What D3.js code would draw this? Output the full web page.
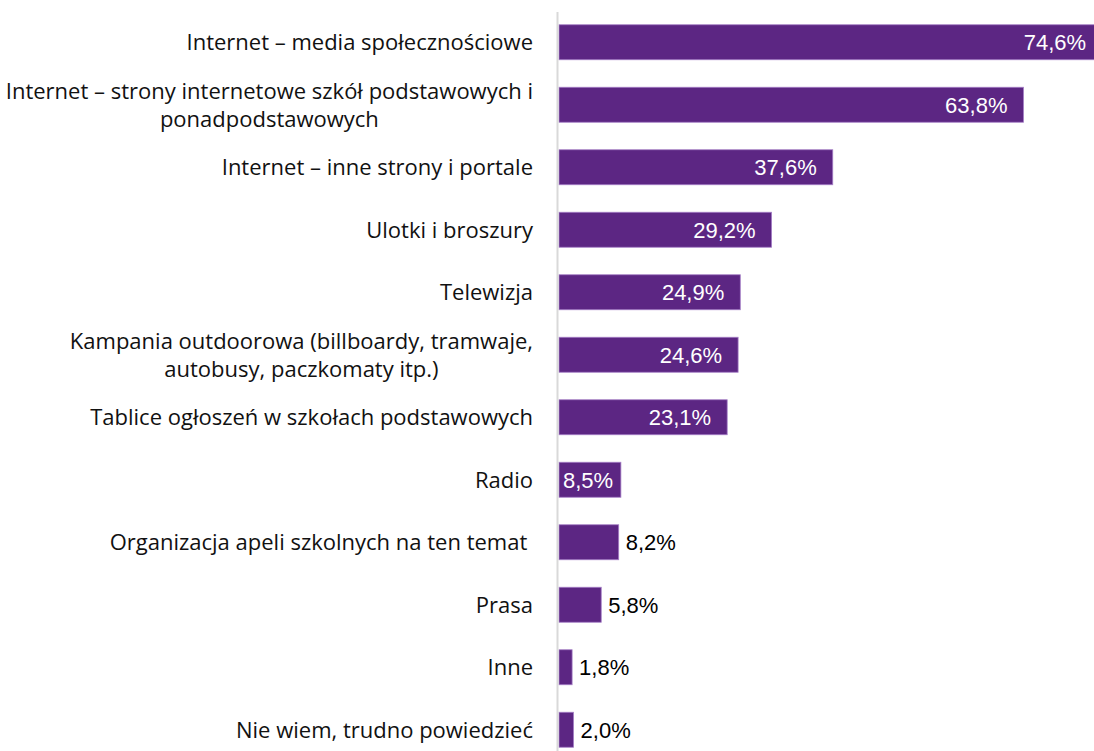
<!DOCTYPE html>
<html>
<head>
<meta charset="utf-8">
<script src="https://cdn.jsdelivr.net/npm/d3@7"></script>
<style>
  html, body { margin: 0; padding: 0; background: #fff; }
  svg { display: block; }
</style>
</head>
<body>
<svg id="chart" width="1094" height="751"></svg>
<script>
const categories = [
  ["Internet – media społecznościowe"],
  ["Internet – strony internetowe szkół podstawowych i", "ponadpodstawowych"],
  ["Internet – inne strony i portale"],
  ["Ulotki i broszury"],
  ["Telewizja"],
  ["Kampania outdoorowa (billboardy, tramwaje,", "autobusy, paczkomaty itp.)"],
  ["Tablice ogłoszeń w szkołach podstawowych"],
  ["Radio"],
  ["Organizacja apeli szkolnych na ten temat "],
  ["Prasa"],
  ["Inne"],
  ["Nie wiem, trudno powiedzieć"]
];
const values = [74.6, 63.8, 37.6, 29.2, 24.9, 24.6, 23.1, 8.5, 8.2, 5.8, 1.8, 2.0];
const valueLabels = ["74,6%", "63,8%", "37,6%", "29,2%", "24,9%", "24,6%", "23,1%", "8,5%", "8,2%", "5,8%", "1,8%", "2,0%"];
const labelPlacement = ["in", "in", "in", "in", "in", "in", "in", "in", "out", "out", "out", "out"];

const svg = d3.select("#chart");
const x0 = 559;
const x = d3.scaleLinear().domain([0, 63.8]).range([x0, 1023.5]);
const idx = d3.range(values.length);
const y = d3.scaleBand().domain(idx).range([11, 761]).paddingInner(0.44).paddingOuter(0.22);

const barColor = "#5c2683";
const catFont = "'Open Sans', sans-serif";
const valFont = "'Liberation Sans', Arial, sans-serif";

// bars
svg.append("g").selectAll("rect").data(idx).join("rect")
  .attr("x", x(0))
  .attr("y", i => y(i))
  .attr("width", i => x(values[i]) - x(0))
  .attr("height", y.bandwidth())
  .attr("fill", barColor)
  .attr("stroke", "#a57fc6")
  .attr("stroke-width", 0.8);

// axis line
svg.append("line")
  .attr("x1", 557.5).attr("x2", 557.5)
  .attr("y1", 12).attr("y2", 751)
  .attr("stroke", "#d9d9d9").attr("stroke-width", 2);

// category labels
const labelRight = 533;
const lineGap = 28;
const catG = svg.append("g");
idx.forEach(i => {
  const lines = categories[i];
  const cy = y(i) + y.bandwidth() / 2;
  const t = catG.append("text")
    .attr("font-family", catFont)
    .attr("font-size", 22)
    .attr("fill", "#111")
    .style("white-space", "pre");
  if (lines.length === 1) {
    t.attr("x", labelRight).attr("y", cy).attr("dy", "0.36em")
      .attr("text-anchor", "end").text(lines[0]);
  } else {
    const spans = lines.map((s, k) => t.append("tspan")
      .attr("y", cy + (k - (lines.length - 1) / 2) * lineGap)
      .attr("dy", "0.36em").text(s));
    const widths = spans.map(s => s.node().getComputedTextLength());
    const w = d3.max(widths);
    const cx = labelRight - w / 2;
    spans.forEach(s => s.attr("x", cx).attr("text-anchor", "middle"));
  }
});

// value labels
const valG = svg.append("g");
idx.forEach(i => {
  const cy = y(i) + y.bandwidth() / 2;
  const end = x(values[i]);
  const t = valG.append("text")
    .attr("font-family", valFont)
    .attr("font-size", 22)
    .attr("y", cy).attr("dy", "0.36em")
    .text(valueLabels[i]);
  if (labelPlacement[i] === "in") {
    const w = t.node().getComputedTextLength();
    let right = end - 16;
    if (right - w < x0 + 4) right = x0 + 4 + w;
    t.attr("x", right).attr("text-anchor", "end").attr("fill", "#fff");
  } else {
    t.attr("x", end + 7).attr("text-anchor", "start").attr("fill", "#000");
  }
});
</script>
</body>
</html>
